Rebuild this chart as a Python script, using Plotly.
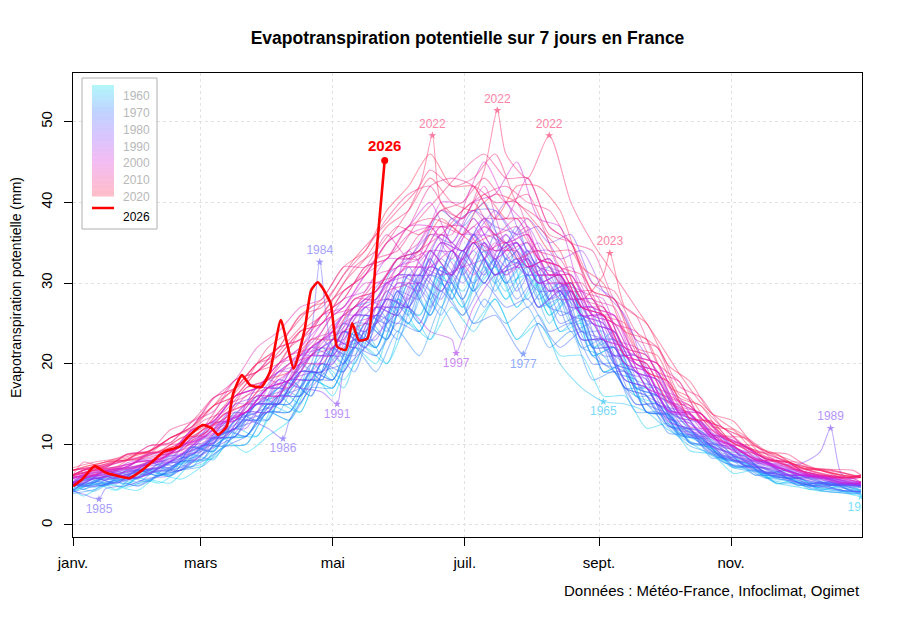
import plotly.graph_objects as go

# jours de l'année (0 = 1er janvier) : deux grilles décalées (années paires / impaires)
jours_a = [0, 10, 20, 30, 40, 50, 60, 70, 80, 90, 100, 110, 120, 130, 140, 150, 160, 170, 180, 190,
           200, 210, 220, 230, 240, 250, 260, 270, 280, 290, 300, 310, 320, 330, 340, 350, 360, 364]
jours_b = [0, 5, 15, 25, 35, 45, 55, 65, 75, 85, 95, 105, 115, 125, 135, 145, 155, 165, 175, 185,
           195, 205, 215, 225, 235, 245, 255, 265, 275, 285, 295, 305, 315, 325, 335, 345, 355, 364]

# ETP sur 7 jours (mm), une liste par année
etp_1960 = [4.2,5.1,4.3,5.8,5.2,6.9,7.6,9.8,10,14,13,18,17,23,22,28,24,31,27,32,28,33,26,28,21,22,16,15,11.5,10.2,8.1,7.6,6.3,5.4,4.8,5.3,4.1,3.9]
etp_1961 = [5.3,4.4,6.1,4.9,7.8,6.7,9.6,9.1,14,13,17,15,22,20,25,23,30,26,33,29,32,27,30,24,25,19,20,14,13.6,10.4,9.5,7.2,7.4,5.1,5.8,4.3,4.9,4.2]
etp_1962 = [4.1,5.2,4.8,4.3,6.2,5.7,7.4,10.6,9,11,13,19,16,22,20,27,26,32,29,34,30,31,27,29,22,23,17,16,12.2,10.8,8.3,8.1,5.9,6.2,4.4,4.9,3.8,4.1]
etp_1963 = [4.4,3.6,5.1,4.7,5.6,5.2,7.7,8.3,11,11,15,14,20,18,22,20,25,23,27,24,28,23,25,21,21,16,16,12,12.6,9.2,8.8,6.4,6.8,5.2,4.7,4.2,4.0,3.5]
etp_1964 = [5.2,5.8,4.4,6.6,6.1,7.7,8.2,11.6,11,15,14,20,18,24,22,29,25,32,28,35,30,33,27,30,22,24,17,17,12.4,11.6,9.3,8.7,6.4,6.6,5.3,5.1,4.7,4.3]
etp_1965 = [4.3,4.9,5.8,5.1,6.8,6.2,8.7,8.1,12,11,16,14,20,17,24,20,27,23,30,25,28,23,26,20,17,16,15,14,11.8,10.2,8.6,7.3,6.7,5.4,5.2,4.6,4.2,3.8]
etp_1966 = [5.1,4.7,5.4,6.7,6.1,7.8,8.8,10.7,11,15,15,19,18,25,22,28,26,31,27,33,29,32,26,29,22,22,17,16,11.2,10.6,8.2,7.8,6.1,6.3,4.8,5.2,4.4,4.7]
etp_1967 = [4.4,5.9,5.2,6.8,6.6,6.3,9.7,9.2,13,14,17,16,22,19,26,23,31,26,34,29,33,27,31,24,26,19,20,14,13.7,10.1,9.6,7.1,7.3,5.6,5.9,4.4,4.8,4.3]
etp_1968 = [4.8,4.2,5.7,5.1,6.3,7.6,8.1,10.8,11,14,14,18,17,23,21,26,24,30,26,33,28,31,25,29,21,22,16,16,11.3,10.9,8.4,7.7,6.2,5.8,4.9,4.3,4.1,4.2]
etp_1969 = [4.1,5.3,4.8,5.9,5.4,7.8,7.2,10.9,12,15,14,19,19,24,23,27,25,31,29,34,30,33,27,28,22,21,17,15,12.1,9.8,8.9,7.1,6.6,5.2,5.1,4.8,4.3,4.1]
etp_1970 = [5.4,4.9,6.2,5.3,7.1,6.8,9.8,9.9,13,13,18,16,22,20,27,24,31,27,34,30,35,28,32,25,26,20,19,15,13.2,10.7,9.2,8.1,6.9,5.9,5.2,5.4,4.8,4.9]
etp_1971 = [4.3,5.8,5.1,6.2,6.7,6.1,9.1,10.8,11,16,15,20,18,25,23,28,25,33,28,36,29,34,27,30,22,23,17,17,12.3,11.8,8.3,8.6,6.2,6.7,4.9,5.2,4.2,4.4]
etp_1972 = [3.9,4.4,5.6,4.8,6.1,6.8,7.3,9.7,10,14,13,17,17,22,19,24,21,27,23,28,25,27,22,24,18,19,14,14,11.1,10.6,7.8,7.2,5.8,5.9,4.6,4.1,3.9,3.8]
etp_1973 = [5.2,5.7,4.9,6.8,6.2,8.6,8.3,10.9,12,15,15,19,19,24,22,29,26,33,28,35,31,35,28,30,23,23,17,16,11.4,11.2,8.7,7.9,6.2,6.1,4.9,5.3,4.6,4.2]
etp_1974 = [4.9,5.3,6.7,5.8,7.6,7.2,9.9,9.8,14,13,18,16,22,19,26,23,30,26,32,27,33,27,30,24,25,19,18,14,12.6,10.3,9.7,7.3,7.1,5.8,5.9,4.9,5.1,4.8]
etp_1975 = [5.1,4.8,5.3,5.7,6.4,7.7,8.1,10.6,11,15,15,18,18,24,23,28,27,34,31,36,32,37,30,31,24,24,18,17,12.3,11.6,9.1,8.3,6.8,6.3,5.3,5.1,4.3,4.1]
etp_1976 = [4.3,5.8,5.2,6.9,6.6,7.9,9.6,11.7,14,16,18,21,23,27,28,33,34,39,37,40,33,32,27,26,21,19,15,15,11.2,10.8,8.3,8.6,6.4,6.8,4.9,5.3,4.2,4.1]
etp_1977 = [5.2,4.9,6.1,5.8,6.9,6.7,9.6,9.1,13,13,16,16,20,19,25,23,30,26,31,25,26,22,25,22,24,20,19,14,13.8,10.2,9.8,7.3,7.1,5.9,5.8,4.9,5.1,4.7]
etp_1978 = [4.1,4.8,5.3,4.9,6.2,6.8,7.9,9.7,11,14,14,18,18,22,21,25,24,29,26,30,27,28,24,25,20,20,15,15,11.4,11.1,8.2,7.8,6.3,5.8,4.7,5.1,4.2,3.9]
etp_1979 = [5.1,4.7,5.9,5.6,6.3,7.8,8.7,10.8,12,15,16,17,21,21,26,25,31,28,34,30,33,28,31,25,26,19,19,14,13.6,10.3,9.8,7.4,7.2,5.8,5.3,4.7,5.1,4.8]
etp_1980 = [4.3,5.8,5.1,6.8,6.1,7.9,8.2,11.8,11,15,15,19,18,24,22,29,25,32,28,35,30,34,28,30,23,23,18,17,12.2,11.7,8.9,8.6,6.4,6.8,5.7,5.1,4.8,4.6]
etp_1981 = [5.3,5.1,6.8,5.9,7.8,7.1,9.9,10.2,14,13,18,17,23,20,27,24,32,27,34,29,36,29,33,26,27,21,21,15,13.8,10.9,10.6,7.9,7.6,6.1,6.2,5.3,5.1,4.8]
etp_1982 = [5.1,5.8,6.2,6.8,7.1,8.7,9.8,12.6,14,17,18,22,21,26,26,31,31,36,34,38,33,35,29,30,25,24,19,18,13.4,12.6,9.8,8.9,7.3,6.8,5.9,5.8,5.2,4.9]
etp_1983 = [5.4,6.1,5.7,6.3,6.9,7.2,8.8,10.1,12,13,16,16,19,20,24,26,31,31,37,39,39,35,32,29,26,22,20,16,14.6,11.8,10.2,8.6,7.4,6.6,5.8,5.2,4.9,5.1]
etp_1984 = [4.9,5.3,5.8,6.2,6.8,7.1,8.9,10.7,13,14,17,24,22,21,26,25,30,28,34,30,35,31,31,26,25,20,19,15,13.7,10.4,9.8,7.4,7.7,5.8,6.1,4.9,5.2,4.8]
etp_1985 = [4.2,3.8,4.5,4.9,5.8,6.1,7.8,9.6,11,14,15,19,19,24,22,28,27,32,31,35,31,33,27,29,23,23,17,16,12.3,11.2,8.9,8.1,6.7,6.1,5.2,4.8,4.3,4.1]
etp_1986 = [5.1,4.8,5.3,5.9,6.7,6.8,8.9,11.6,13,12,13,17,20,23,23,29,28,33,30,34,31,34,28,29,22,22,17,16,11.8,11.3,8.7,8.2,6.6,6.2,5.1,5.3,4.6,4.9]
etp_1987 = [5.2,5.9,5.6,6.3,6.8,7.8,8.9,10.7,12,15,15,19,19,22,23,27,27,31,30,35,31,32,29,29,24,23,18,17,12.9,11.8,9.2,8.1,6.9,6.3,5.8,5.2,4.9,5.1]
etp_1988 = [5.3,5.7,6.3,6.8,7.1,8.2,10.6,10.9,14,14,18,18,23,22,27,26,31,29,33,30,35,31,32,27,27,21,21,15,14.2,11.6,10.8,8.1,7.8,6.2,6.1,5.3,5.1,4.9]
etp_1989 = [5.8,6.2,6.7,7.1,7.6,8.3,10.8,11.9,15,16,19,21,23,26,28,31,33,36,35,39,37,36,32,31,26,25,20,18,14.1,12.6,10.3,9.6,8.1,7.6,7.5,9,6.3,5.2]
etp_1990 = [5.2,6.1,6.6,7.2,7.8,8.7,9.9,12.6,14,17,17,21,21,26,26,31,30,35,34,38,35,38,35,36,30,28,23,19,13.8,12.7,9.9,9.2,7.8,6.9,6.2,5.8,5.3,5.1]
etp_1991 = [5.1,5.7,6.2,6.6,7.3,7.8,9.6,10.2,13,14,18,17,16.5,19,22,25,28,32,31,36,33,35,30,31,26,26,19,18,13.2,12.6,9.8,8.7,7.3,6.9,5.8,6.1,5.2,4.9]
etp_1992 = [5.3,5.8,6.1,5.9,7.7,7.9,10.8,10.9,14,14,18,18,23,22,27,26,32,29,34,31,36,32,33,27,27,21,21,16,14.6,11.3,10.7,8.2,7.8,6.1,6.2,5.7,5.1,5.2]
etp_1993 = [5.8,5.2,6.7,6.1,7.8,7.9,9.8,12.7,13,17,17,21,21,25,24,30,28,34,31,35,31,33,27,29,23,23,18,17,12.8,11.9,9.8,8.8,7.2,6.8,5.9,5.6,5.1,4.9]
etp_1994 = [5.3,6.2,5.8,6.9,7.2,8.8,9.9,12.2,15,15,18,19,22,23,27,27,32,31,36,36,40,34,34,28,28,22,21,16,14.8,11.4,10.9,8.3,7.9,6.2,6.3,5.7,5.2,5.4]
etp_1995 = [5.1,5.8,6.3,6.7,7.8,8.1,10.8,11.2,15,15,19,19,23,23,28,27,34,31,38,36,39,36,37,33,34,29,26,19,14.7,11.2,10.8,8.1,7.8,6.3,6.2,5.8,5.3,5.1]
etp_1996 = [4.9,5.7,6.2,5.8,7.1,8.6,9.2,11.8,12,16,16,20,20,25,25,30,29,34,31,35,32,33,29,29,25,24,19,18,13.3,12.8,9.7,9.1,7.6,6.8,5.9,5.6,4.9,5.1]
etp_1997 = [5.3,6.1,6.7,7.2,8.6,8.9,11.8,12.8,16,17,19,20,23,24,27,28,27,24,23,27,31,32,35,30,29,23,22,17,15.7,12.1,10.8,9.2,7.8,7.1,6.2,5.9,5.3,5.1]
etp_1998 = [5.9,6.2,6.8,7.3,7.9,9.8,10.7,12.9,14,16,17,21,23,26,28,31,31,35,34,36,35,37,32,31,26,25,20,19,13.8,12.9,10.2,9.7,7.8,7.2,6.1,5.8,5.4,5.2]
etp_1999 = [5.2,5.8,6.3,6.9,7.8,8.7,10.2,12.6,13,17,17,21,22,26,26,30,31,34,34,38,34,35,30,30,26,25,20,19,13.9,13.6,10.8,9.7,7.9,7.2,6.3,5.8,5.1,5.3]
etp_2000 = [5.7,6.2,6.8,7.1,8.2,8.9,10.8,12.1,15,16,19,21,24,26,29,31,34,31,32,33,36,32,33,28,28,23,22,17,15.8,11.9,10.9,8.8,7.9,6.7,6.2,5.9,5.3,5.2]
etp_2001 = [5.1,6.3,5.9,7.7,8.2,8.9,9.8,12.3,13,16,16,21,24,28,29,33,33,37,33,38,34,35,31,31,27,26,20,19,14.2,13.8,10.9,9.8,8.1,7.3,6.2,5.9,5.3,5.1]
etp_2002 = [6.2,6.8,6.7,7.9,8.1,9.8,10.9,12.8,14,17,18,21,21,25,26,30,30,35,33,35,31,33,29,30,25,24,19,18,13.9,12.8,9.9,9.8,7.8,7.1,6.3,5.9,5.8,5.3]
etp_2003 = [5.8,6.3,6.9,7.2,8.8,9.1,11.8,12.9,16,17,20,22,25,27,31,35,37,40,35,40,41,45,38,37,29,28,21,19,14.2,13.8,10.9,9.8,8.1,7.2,6.3,5.9,5.2,5.1]
etp_2004 = [6.1,6.8,7.2,7.8,8.3,9.9,10.8,13.2,14,17,18,22,22,27,27,32,33,37,32,37,35,36,31,32,27,26,20,19,14.3,13.8,10.8,9.9,8.2,7.7,6.3,6.1,5.8,5.9]
etp_2005 = [5.9,6.3,6.8,7.2,8.8,9.2,11.7,12.9,16,17,20,21,25,27,31,33,37,37,34,37,33,35,30,31,26,26,21,19,14.1,13.7,10.9,9.8,8.2,7.1,6.3,5.9,5.7,5.3]
etp_2006 = [5.2,6.1,6.3,7.1,7.9,9.8,10.2,12.8,14,17,19,22,24,28,29,33,34,40,40,45,40,37,30,30,26,26,21,20,15.2,13.8,11.2,9.9,8.3,7.1,6.2,5.8,5.2,5.1]
etp_2007 = [6.2,6.8,7.3,8.1,9.8,10.2,12.8,14.1,18,19,22,23,26,27,30,30,32,32,34,31,35,32,32,28,28,23,22,17,15.8,12.2,11.8,9.1,8.9,7.2,6.8,6.1,5.8,5.3]
etp_2008 = [5.8,6.3,7.1,7.8,8.2,9.8,11.2,13.8,14,17,18,22,24,28,28,32,32,36,34,37,34,35,31,31,26,25,20,19,14.2,13.8,10.9,9.8,8.2,7.8,6.2,6.1,5.8,5.9]
etp_2009 = [5.9,6.2,6.8,7.3,8.9,9.2,11.8,12.9,16,17,20,22,26,28,32,33,36,37,37,39,36,38,33,32,27,26,21,20,15.1,13.8,11.2,9.8,8.2,7.8,6.8,6.2,5.8,5.2]
etp_2010 = [6.1,6.8,7.2,7.8,8.1,9.9,11.2,13.7,15,18,20,23,24,27,29,33,35,39,38,42,35,36,31,31,27,26,21,20,14.8,13.9,11.1,9.8,8.2,7.8,6.2,5.9,5.8,5.3]
etp_2011 = [6.2,6.8,7.1,8.8,9.2,10.8,12.2,15.7,18,22,24,27,28,32,32,36,33,34,31,35,34,34,31,31,27,27,22,21,15.9,14.8,11.2,10.8,8.3,7.8,6.8,6.2,5.9,6.1]
etp_2012 = [5.9,6.3,6.8,7.2,8.1,9.8,11.8,14.7,16,18,17,21,22,26,29,33,33,37,36,38,38,43,37,35,28,27,21,20,15.2,13.8,11.1,9.9,8.2,7.8,6.7,6.1,5.8,5.9]
etp_2013 = [6.1,5.8,6.7,7.1,7.8,9.2,10.1,11.8,13,16,16,20,20,24,25,29,30,36,36,42,40,40,33,32,27,26,21,20,15.3,13.9,11.2,9.8,8.1,7.9,6.8,6.2,5.8,6.1]
etp_2014 = [6.8,7.2,7.9,8.3,9.8,10.2,12.9,14.1,17,18,21,22,26,27,31,32,36,37,37,34,35,32,33,29,29,25,24,19,17.8,13.2,12.1,9.9,8.8,7.9,6.8,6.2,5.9,6.1]
etp_2015 = [6.2,6.8,7.3,8.1,8.8,10.8,12.1,14.8,16,19,21,24,25,29,31,35,37,42,43,42,38,38,34,33,28,27,22,21,16.2,14.8,11.9,10.2,8.8,8.1,6.9,6.8,5.9,6.2]
etp_2016 = [6.8,7.2,7.7,8.3,9.1,10.2,11.8,13.2,16,17,20,21,25,27,30,31,34,36,39,41,42,40,39,35,34,28,26,20,17.8,13.2,12.1,9.8,8.9,7.8,7.1,6.7,6.2,5.9]
etp_2017 = [6.1,6.8,7.2,8.7,9.1,10.8,12.2,15.8,17,20,22,26,27,31,34,38,41,42,38,40,36,37,33,32,27,26,21,20,15.2,14.8,11.8,10.2,8.8,7.9,6.8,6.2,5.8,6.1]
etp_2018 = [6.8,7.2,7.9,8.1,8.7,9.2,11.8,13.1,17,18,22,24,28,30,33,34,38,41,44,46,43,43,37,35,29,28,23,22,17.2,15.8,12.1,10.9,9.1,8.2,7.1,6.8,6.2,5.9]
etp_2019 = [6.2,7.8,7.1,8.8,9.1,11.8,12.9,15.8,17,20,21,24,25,29,31,35,39,44,42,43,46,40,38,32,31,26,24,19,17.8,13.2,12.9,10.1,9.8,7.9,7.8,6.8,6.2,5.9]
etp_2020 = [7.1,7.8,8.2,8.8,9.2,10.8,12.1,15.8,18,22,24,27,28,32,34,37,36,39,40,43,40,41,36,35,30,29,24,22,16.2,14.8,12.1,10.8,9.1,8.8,7.2,6.9,6.8,6.2]
etp_2021 = [6.2,6.8,7.8,8.1,9.8,10.2,12.8,14.8,18,19,22,23,26,28,32,33,37,38,37,35,36,33,34,30,30,26,25,19,17.8,13.2,12.8,10.1,9.2,7.8,7.1,6.8,6.2,5.9]
etp_2022 = [6.1,6.8,7.9,8.2,9.1,10.2,11.8,14.8,18,20,23,26,29,33,36,39,42,40,38,44,46,43,45,40,35,31,27,23,18.8,15.2,12.8,11.1,9.2,7.8,7.1,6.8,6.2,5.9]
etp_2023 = [6.8,7.2,7.8,8.7,9.1,10.8,12.2,14.8,16,19,20,24,26,30,33,37,39,43,40,39,41,40,37,34,28,31,27,25,19.8,17.8,13.8,12.9,9.8,8.8,7.1,6.8,6.2,6.1]
etp_2024 = [6.2,6.8,7.2,8.8,9.1,10.8,11.2,13.8,15,18,19,23,23,28,29,33,34,38,36,41,38,38,34,34,29,28,22,21,15.8,14.8,11.2,10.8,8.2,7.8,6.8,6.1,5.9,6.2]
etp_2025 = [6.8,7.2,7.8,8.3,9.1,10.8,11.9,14.8,17,20,22,26,28,32,34,39,42,46,42,42,38,42,42,39,32,30,24,23,17.2,15.8,12.2,11.8,9.1,8.8,7.2,6.8,6.1,5.9]

annees = list(range(1960, 2026))
series = [etp_1960, etp_1961, etp_1962, etp_1963, etp_1964, etp_1965, etp_1966, etp_1967, etp_1968, etp_1969,
          etp_1970, etp_1971, etp_1972, etp_1973, etp_1974, etp_1975, etp_1976, etp_1977, etp_1978, etp_1979,
          etp_1980, etp_1981, etp_1982, etp_1983, etp_1984, etp_1985, etp_1986, etp_1987, etp_1988, etp_1989,
          etp_1990, etp_1991, etp_1992, etp_1993, etp_1994, etp_1995, etp_1996, etp_1997, etp_1998, etp_1999,
          etp_2000, etp_2001, etp_2002, etp_2003, etp_2004, etp_2005, etp_2006, etp_2007, etp_2008, etp_2009,
          etp_2010, etp_2011, etp_2012, etp_2013, etp_2014, etp_2015, etp_2016, etp_2017, etp_2018, etp_2019,
          etp_2020, etp_2021, etp_2022, etp_2023, etp_2024, etp_2025]

# année en cours
jours_2026 = [0, 4, 10, 15, 19, 26, 32, 36, 42, 49, 53, 60, 64, 67, 71, 74, 78, 82, 87, 91,
              96, 102, 107, 110, 113, 115, 119, 122, 126, 129, 132, 136, 140, 144]
etp_2026 = [4.8, 5.6, 7.3, 6.5, 6.2, 5.8, 6.8, 7.7, 9.1, 9.7, 10.9, 12.4, 12.0, 11.2, 12.2, 16.3, 18.6, 17.3, 17.1, 19.0,
            25.4, 19.4, 24.2, 29.1, 30.1, 29.5, 27.5, 22.1, 21.7, 25.0, 22.9, 23.1, 33.2, 45.2]

# records annotés
annee_records = [1985, 1986, 1984, 1991, 2022, 2022, 2022, 1997, 1977, 2023, 1965, 1989, 1963]
jour_records = [12, 97, 114, 122, 166, 196, 220, 177, 208, 248, 245, 350, 364]
val_records = [3.2, 10.7, 32.6, 15.0, 48.3, 51.4, 48.3, 21.3, 21.2, 33.7, 15.3, 12.0, 3.5]
sens_records = ["min", "min", "max", "min", "max", "max", "max", "min", "min", "max", "min", "max", "min"]

mois_jours = [0, 59, 120, 181, 243, 304]
mois_noms = ["janv.", "mars", "mai", "juil.", "sept.", "nov."]

# couleurs repères du dégradé des années
rep_annees = [1960, 1975, 1990, 2005, 2025]
rep_rgb = [(0, 225, 240), (40, 110, 255), (125, 60, 250), (215, 30, 215), (255, 35, 75)]


def rgb_annee(annee):
    for k in range(len(rep_annees) - 1):
        a0, a1 = rep_annees[k], rep_annees[k + 1]
        if annee <= a1 or k == len(rep_annees) - 2:
            t = min(max((annee - a0) / (a1 - a0), 0), 1)
            return [round(rep_rgb[k][i] + t * (rep_rgb[k + 1][i] - rep_rgb[k][i])) for i in range(3)]


def couleur(annee, alpha):
    c = rgb_annee(annee)
    return "rgba({},{},{},{})".format(c[0], c[1], c[2], alpha)


def pale(annee, alpha):
    # couleur mélangée au blanc
    c = [round(255 - alpha * (255 - v)) for v in rgb_annee(annee)]
    return "rgb({},{},{})".format(*c)


fig = go.Figure()

for annee, vals in zip(annees, series):
    grille = jours_a if annee % 2 == 0 else jours_b
    pts = dict(zip(grille, vals))
    for a, j, v in zip(annee_records, jour_records, val_records):
        if a == annee:
            pts[j] = v
    xs = sorted(pts)
    fig.add_trace(go.Scatter(x=xs, y=[pts[j] for j in xs], mode="lines",
                             line=dict(color=couleur(annee, 0.45), width=1.1, shape="spline", smoothing=0.7),
                             showlegend=False, hoverinfo="skip"))

fig.add_trace(go.Scatter(x=jours_2026, y=etp_2026, mode="lines",
                         line=dict(color="#ff0000", width=2.6, shape="spline", smoothing=0.5),
                         showlegend=False))
fig.add_trace(go.Scatter(x=[jours_2026[-1]], y=[etp_2026[-1]], mode="markers+text",
                         marker=dict(color="#ff0000", size=7), text=["<b>2026</b>"],
                         textposition="top center", textfont=dict(color="#ff0000", size=15),
                         showlegend=False))

for a, j, v, s in zip(annee_records, jour_records, val_records, sens_records):
    fig.add_trace(go.Scatter(x=[j], y=[v], mode="markers+text", text=[str(a)],
                             textposition="top center" if s == "max" else "bottom center",
                             marker=dict(symbol="star", size=6, color=pale(a, 0.6)),
                             textfont=dict(color=pale(a, 0.55), size=12),
                             cliponaxis=True, showlegend=False))


# positions en pixels de la page -> coordonnées "paper"
def px_x(p):
    return (p - 73) / 789


def px_y(p):
    return (537 - p) / 464


# légende dessinée à la main (dégradé + ligne rouge)
fig.add_shape(type="rect", xref="paper", yref="paper", x0=px_x(82), x1=px_x(157),
              y0=px_y(229), y1=px_y(78), line=dict(color="#b0b0b0", width=1), fillcolor="white", layer="above")
hauteur = (196 - 85) / len(annees)
for i, annee in enumerate(annees):
    fig.add_shape(type="rect", xref="paper", yref="paper", x0=px_x(92), x1=px_x(114),
                  y0=px_y(85 + (i + 1) * hauteur + 0.5), y1=px_y(85 + i * hauteur),
                  line=dict(width=0), fillcolor=pale(annee, 0.3), layer="above")
for i, annee in enumerate(range(1960, 2030, 10)):
    fig.add_annotation(xref="paper", yref="paper", x=px_x(152), y=px_y(87 + i * 16.85),
                       text=str(annee), showarrow=False, xanchor="right",
                       font=dict(color="#b8b8b8", size=12))
fig.add_shape(type="line", xref="paper", yref="paper", x0=px_x(92), x1=px_x(114),
              y0=px_y(208), y1=px_y(208), line=dict(color="#ff0000", width=2.5), layer="above")
fig.add_annotation(xref="paper", yref="paper", x=px_x(152), y=px_y(208), text="2026",
                   showarrow=False, xanchor="right", font=dict(color="black", size=12))

fig.add_annotation(xref="paper", yref="paper", x=px_x(16), y=px_y(288), textangle=-90,
                   xanchor="center", yanchor="middle",
                   text="Evapotranspiration potentielle (mm)", showarrow=False,
                   font=dict(size=14, color="black"))
fig.add_annotation(xref="paper", yref="paper", x=px_x(862), y=px_y(601), xanchor="right",
                   text="Données : Météo-France, Infoclimat, Ogimet", showarrow=False,
                   font=dict(size=15, color="black"))

# la page ajoute une marge de 8 px : marges réduites d'autant
fig.update_layout(
    width=900, height=629,
    margin=dict(l=65, r=46, t=65, b=100),
    paper_bgcolor="white", plot_bgcolor="white",
    font=dict(family="Liberation Sans, Arial, sans-serif", color="black"),
    title=dict(text="<b>Evapotranspiration potentielle sur 7 jours en France</b>",
               x=0.5, xref="paper", xanchor="center", y=1 - 30 / 629, yanchor="middle",
               font=dict(size=17.5, color="black")),
    showlegend=False,
)
fig.update_xaxes(range=[0, 364.5], tickvals=mois_jours, ticktext=mois_noms,
                 ticks="outside", ticklen=8, tickcolor="black", ticklabelstandoff=4,
                 showline=True, mirror=True, linecolor="black", linewidth=1,
                 showgrid=True, gridcolor="#e2e2e2", griddash="dot", zeroline=False,
                 tickfont=dict(size=15))
fig.update_yaxes(range=[-1.49, 56.04], tick0=0, dtick=10, tickangle=-90,
                 ticks="outside", ticklen=8, tickcolor="black", ticklabelstandoff=6,
                 showline=True, mirror=True, linecolor="black", linewidth=1,
                 showgrid=True, gridcolor="#e2e2e2", griddash="dot", zeroline=False,
                 tickfont=dict(size=15))

fig.write_html("out.html")
